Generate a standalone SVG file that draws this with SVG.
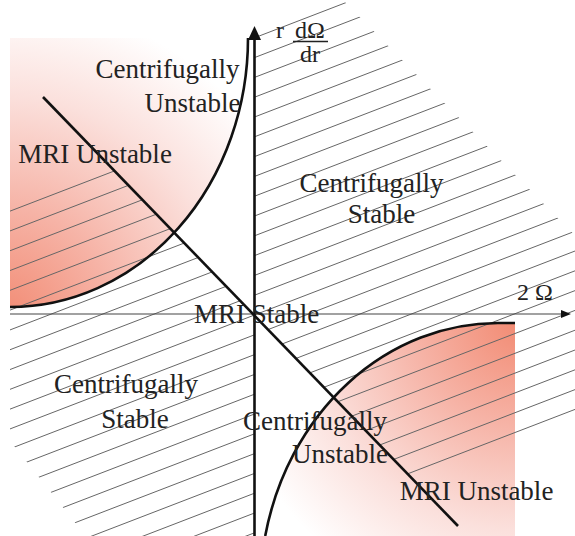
<svg xmlns="http://www.w3.org/2000/svg" width="575" height="536" viewBox="0 0 575 536">
<style>
.lbl{font-size:27px;fill:#222;text-anchor:middle}
.ax{font-size:24px;fill:#222}
.hatch{fill:none;stroke:#666;stroke-width:1}
.curve{fill:none;stroke:#111;stroke-width:2.6}
</style>
<defs>
<radialGradient id="pinkUL" gradientUnits="userSpaceOnUse" cx="0" cy="320" r="320">
<stop offset="0" stop-color="#f28a72"/>
<stop offset="0.35" stop-color="#f6b3a6"/>
<stop offset="0.7" stop-color="#fbe0dc"/>
<stop offset="1" stop-color="#ffffff"/>
</radialGradient>
<radialGradient id="pinkLR" gradientUnits="userSpaceOnUse" cx="520" cy="320" r="300">
<stop offset="0" stop-color="#f28a72"/>
<stop offset="0.35" stop-color="#f6b3a6"/>
<stop offset="0.7" stop-color="#fbe0dc"/>
<stop offset="1" stop-color="#ffffff"/>
</radialGradient>
<clipPath id="hatchClip">
<polygon points="254,28 338.7,-4.4 600,261 600,409.7 414.4,481.2 254,315"/>
<polygon points="107.8,163.5 10,201.2 10,441 93,545 254,545 254,315"/>
</clipPath>
</defs>
<rect width="575" height="536" fill="#fff"/>
<g id="fills">
<path d="M10,38 L248,38 A238,269 0 0 1 10,307 Z" fill="url(#pinkUL)"/>
<path d="M498,323 L515,323 L515,536 L265.2,536 A238,269 0 0 1 498,323 Z" fill="url(#pinkLR)"/>
</g>
<g id="hatching" clip-path="url(#hatchClip)">
<path class="hatch" d="M0,135.79L580,-87.51 M0,155.59L580,-67.71 M0,175.39L580,-47.91 M0,195.19L580,-28.11 M0,214.99L580,-8.31 M0,234.79L580,11.49 M0,254.59L580,31.29 M0,274.39L580,51.09 M0,294.19L580,70.89 M0,313.99L580,90.69 M0,333.79L580,110.49 M0,353.59L580,130.29 M0,373.39L580,150.09 M0,393.19L580,169.89 M0,412.99L580,189.69 M0,432.79L580,209.49 M0,452.59L580,229.29 M0,472.39L580,249.09 M0,492.19L580,268.89 M0,511.99L580,288.69 M0,531.79L580,308.49 M0,551.59L580,328.29 M0,571.39L580,348.09 M0,591.19L580,367.89 M0,610.99L580,387.69 M0,630.79L580,407.49"/>
</g>
<g id="connectors">
<line x1="10" y1="314" x2="562" y2="314" stroke="#444" stroke-width="1.2"/>
<polygon points="571,314 561,310 561,318" fill="#111"/>
<line x1="254.5" y1="38" x2="254.5" y2="536" stroke="#111" stroke-width="2.6"/>
<polygon points="254.5,26 248,40 261,40" fill="#111"/>
<line x1="43" y1="97" x2="458" y2="526" stroke="#111" stroke-width="2.6"/>
<path class="curve" d="M248,38 A238,269 0 0 1 10,307"/>
<path class="curve" d="M265.2,536 A238,269 0 0 1 498,323 L515,323"/>
</g>
<g id="labels" font-family="Liberation Serif, Times New Roman, serif">
<text class="lbl" x="167.5" y="78">Centrifugally</text>
<text class="lbl" x="192.5" y="112">Unstable</text>
<text class="lbl" x="95" y="163">MRI Unstable</text>
<text class="lbl" x="371.5" y="192">Centrifugally</text>
<text class="lbl" x="381.5" y="223">Stable</text>
<text class="lbl" x="256.5" y="323">MRI Stable</text>
<text class="lbl" x="126" y="393">Centrifugally</text>
<text class="lbl" x="135" y="428">Stable</text>
<text class="lbl" x="315" y="430">Centrifugally</text>
<text class="lbl" x="340" y="463">Unstable</text>
<text class="lbl" x="476.5" y="500">MRI Unstable</text>
<text class="ax" x="517" y="300" font-size="26">2 Ω</text>
</g>
<g id="axis-label" font-family="Liberation Serif, Times New Roman, serif">
<text class="ax" x="276" y="38">r</text>
<text class="ax" x="295" y="38">dΩ</text>
<line x1="293" y1="41.5" x2="328" y2="41.5" stroke="#222" stroke-width="1.6"/>
<text class="ax" x="300" y="62">dr</text>
</g>
</svg>
